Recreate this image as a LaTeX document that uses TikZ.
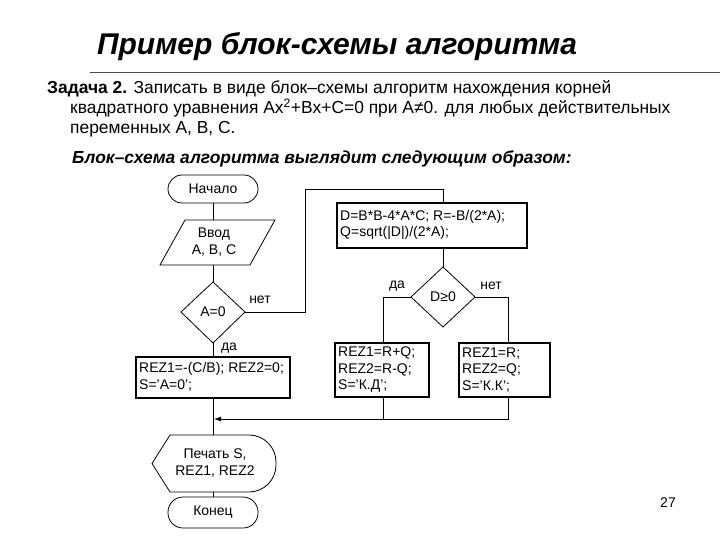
\documentclass[tikz,border=0pt]{standalone}
\usepackage{fontspec}
\setmainfont{Liberation Sans}
\usetikzlibrary{arrows.meta}
\begin{document}
\begin{tikzpicture}[x=1pt,y=-1pt,
  lbl/.style={font=\fontsize{14}{16.5}\selectfont,inner sep=1pt},
  tx/.style={font=\fontsize{17.4}{20}\selectfont,anchor=base west,inner sep=0},
  thick box/.style={draw,line width=1.6pt},
  ln/.style={line width=0.8pt}]
\useasboundingbox (0,0) rectangle (720,540);
\node[anchor=base,font=\fontsize{30}{34}\selectfont\bfseries\itshape] (title) at (337,55) {Пример блок-схемы алгоритма};
\draw[gray!60!black,line width=0.8pt] (90,72) -- (720,72);
\node[tx] (t1) at (47,94) {\textbf{Задача 2.} Записать в виде блок–схемы алгоритм нахождения корней};
\node[tx] (t2) at (70,114) {квадратного уравнения Ax\textsuperscript{2}+Bx+C=0 при A≠0. для любых действительных};
\node[tx] (t3) at (70,134) {переменных A, B, C.};
\node[tx,font=\fontsize{17.4}{20}\selectfont\bfseries\itshape] (t4) at (72,164) {Блок–схема алгоритма выглядит следующим образом:};
% shapes
\draw[ln,rounded corners=14] (168,175) rectangle (258,203);
\node[lbl] (start) at (213,189) {Начало};
\draw[ln] (185,220) -- (275,220) -- (250,265) -- (160,265) -- cycle;
\node[lbl,align=center] (in) at (214,242) {Ввод\\A, B, C};
\draw[ln] (213,282) -- (245,312) -- (213,343) -- (181,312) -- cycle;
\node[lbl] (d1) at (213,312) {A=0};
\node[lbl] at (260,300) {нет};
\node[lbl] at (229,348) {да};
\draw[thick box] (136,357) rectangle (290,398);
\node[lbl,align=left,anchor=west] (r0) at (138,377) {REZ1=-(C/B); REZ2=0;\\S='A=0';};
\draw[thick box] (337,203) rectangle (527,248);
\node[lbl,align=left,anchor=west] (calc) at (339,225) {D=B*B-4*A*C; R=-B/(2*A);\\Q=sqrt(|D|)/(2*A);};
\draw[ln] (443,267) -- (475,297) -- (443,327) -- (411,297) -- cycle;
\node[lbl] (d2) at (443,297) {D≥0};
\node[lbl] at (397,286) {да};
\node[lbl] at (491,286) {нет};
\draw[thick box] (335,343) rectangle (429,397);
\node[lbl,align=left,anchor=west] (r1) at (337,370) {REZ1=R+Q;\\REZ2=R-Q;\\S='К.Д';};
\draw[thick box] (459,343) rectangle (550,397);
\node[lbl,align=left,anchor=west] (r2) at (461,370) {REZ1=R;\\REZ2=Q;\\S='К.К';};
\draw[ln] (152,463.5) -- (170,435) [rounded corners=27] -- (276,435) -- (276,492) [sharp corners] -- (170,492) -- cycle;
\node[lbl,align=center] (pr) at (215,463) {Печать S,\\REZ1, REZ2};
\draw[ln,rounded corners=15] (168,497) rectangle (258,528);
\node[lbl] (end) at (213,512) {Конец};
\node[lbl] (pg) at (668,503) {27};
% connectors
\draw[ln] (213,203) -- (213,220);
\draw[ln] (213,265) -- (213,282);
\draw[ln] (213,343) -- (213,357);
\draw[ln] (245,312) -- (305,312) -- (305,189) -- (443,189) -- (443,203);
\draw[ln] (443,248) -- (443,267);
\draw[ln] (411,297) -- (383,297) -- (383,343);
\draw[ln] (475,297) -- (508,297) -- (508,343);
\draw[ln] (383,397) -- (383,419);
\draw[ln,-{Latex[length=7pt,width=5pt]}] (508,397) -- (508,419) -- (214,419);
\draw[ln] (213,398) -- (213,435);
\draw[ln] (213,492) -- (213,497);
\end{tikzpicture}
\end{document}
